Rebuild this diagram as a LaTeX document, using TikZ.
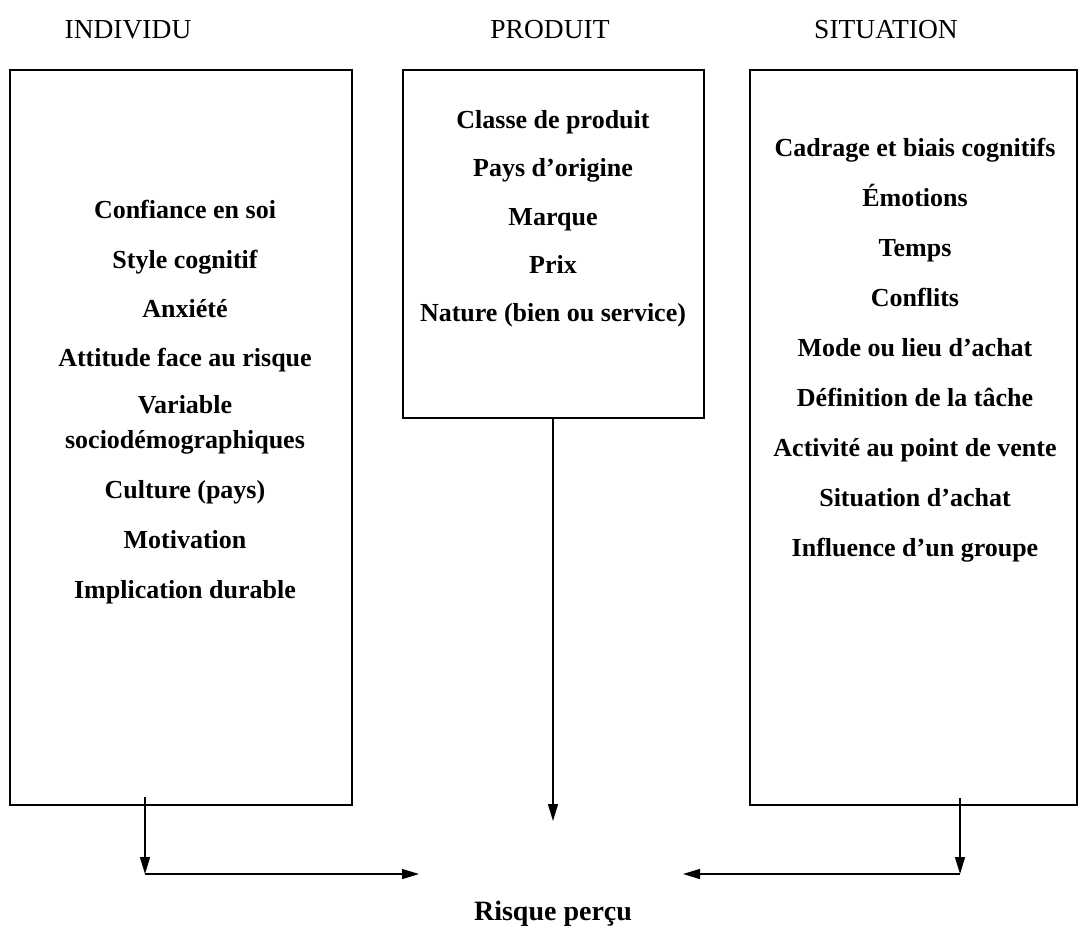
\documentclass[tikz,border=0pt]{standalone}
\usepackage{fontspec}
\setmainfont{Liberation Serif}
\usetikzlibrary{arrows.meta}
\tikzset{
  boxnode/.style={draw, line width=1.5pt, inner sep=0pt},
  item/.style={font=\fontsize{26}{30}\selectfont\bfseries, anchor=base, inner sep=0pt, align=center},
  head/.style={font=\fontsize{27.5}{30}\selectfont, anchor=base, inner sep=0pt},
  arr/.style={line width=1.4pt, -{Triangle[length=17pt,width=10pt]}}
}
\begin{document}
\begin{tikzpicture}[x=1pt,y=-1pt]
\useasboundingbox (0,0) rectangle (1081,926);
% headers
\node[head] (hI) at (128,38) {INDIVIDU};
\node[head] (hP) at (550,38) {PRODUIT};
\node[head] (hS) at (886,38) {SITUATION};
% boxes
\node[boxnode, minimum width=342pt, minimum height=735pt] (bI) at (181,437.5) {};
\node[boxnode, minimum width=301pt, minimum height=348pt] (bP) at (553.5,244) {};
\node[boxnode, minimum width=327pt, minimum height=735pt] (bS) at (913.5,437.5) {};
% individu items
\node[item] (i1) at (185,218) {Confiance en soi};
\node[item] (i2) at (185,268) {Style cognitif};
\node[item] (i3) at (185,317) {Anxiété};
\node[item] (i4) at (185,366) {Attitude face au risque};
\node[item] (i5) at (185,413) {Variable};
\node[item] (i5b) at (185,448) {sociodémographiques};
\node[item] (i6) at (185,498) {Culture (pays)};
\node[item] (i7) at (185,548) {Motivation};
\node[item] (i8) at (185,598) {Implication durable};
% produit items
\node[item] (p1) at (553,128) {Classe de produit};
\node[item] (p2) at (553,176) {Pays d’origine};
\node[item] (p3) at (553,225) {Marque};
\node[item] (p4) at (553,273) {Prix};
\node[item] (p5) at (553,321) {Nature (bien ou service)};
% situation items
\node[item] (s1) at (915,156) {Cadrage et biais cognitifs};
\node[item] (s2) at (915,206) {Émotions};
\node[item] (s3) at (915,256) {Temps};
\node[item] (s4) at (915,306) {Conflits};
\node[item] (s5) at (915,356) {Mode ou lieu d’achat};
\node[item] (s6) at (915,406) {Définition de la tâche};
\node[item] (s7) at (915,456) {Activité au point de vente};
\node[item] (s8) at (915,506) {Situation d’achat};
\node[item] (s9) at (915,556) {Influence d’un groupe};
% result
\node[item, font=\fontsize{28}{32}\selectfont\bfseries] (risk) at (553,920) {Risque perçu};
% connectors
\coordinate (pEnd) at (553,821);
\coordinate (lTop) at (145,797);
\coordinate (lCorner) at (145,874);
\coordinate (lEnd) at (419,874);
\coordinate (rTop) at (960,798);
\coordinate (rCorner) at (960,874);
\coordinate (rEnd) at (683,874);
\draw[arr] (bP.south -| pEnd) -- (pEnd);
\draw[arr] (lTop) -- (lCorner);
\draw[arr] (lCorner) -- (lEnd);
\draw[arr] (rTop) -- (rCorner);
\draw[arr] (rCorner) -- (rEnd);
\end{tikzpicture}
\end{document}
